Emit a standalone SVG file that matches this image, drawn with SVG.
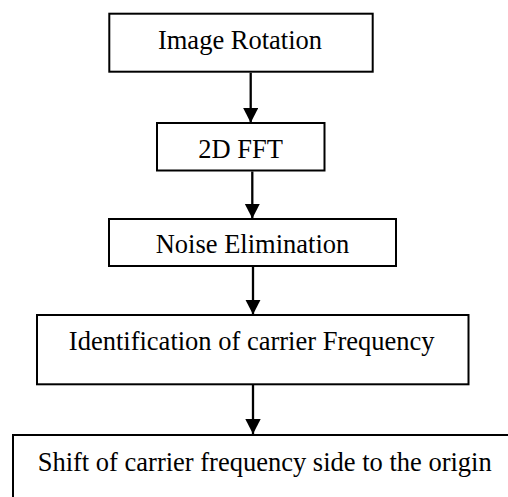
<svg xmlns="http://www.w3.org/2000/svg" width="508" height="497" viewBox="0 0 508 497">
<style>
.box{fill:#fff;stroke:#000;stroke-width:2}
.lbl{font-family:"Liberation Serif","Times New Roman",serif;font-size:26.5px;fill:#000;text-anchor:middle}
.conn{stroke:#000;stroke-width:2.3;fill:none}
</style>
<defs>
<marker id="arr" markerUnits="userSpaceOnUse" markerWidth="16" markerHeight="16" refX="15" refY="7.7" orient="auto">
<path d="M0,0 L15,7.7 L0,15.4 Z" fill="#000"/>
</marker>
</defs>
<rect width="508" height="497" fill="#fff"/>
<g id="connectors">
<line class="conn" x1="250.7" y1="72.7" x2="250.7" y2="122.7" marker-end="url(#arr)"/>
<line class="conn" x1="252.3" y1="171.5" x2="252.3" y2="218.5" marker-end="url(#arr)"/>
<line class="conn" x1="253" y1="267" x2="253" y2="314.5" marker-end="url(#arr)"/>
<line class="conn" x1="253" y1="385" x2="253" y2="434" marker-end="url(#arr)"/>
</g>
<g id="n1">
<rect class="box" x="109.3" y="13.7" width="263.4" height="58"/>
<text class="lbl" x="240" y="49.3">Image Rotation</text>
</g>
<g id="n2">
<rect class="box" x="157" y="123" width="167.5" height="47.5"/>
<text class="lbl" x="240.5" y="157.7">2D FFT</text>
</g>
<g id="n3">
<rect class="box" x="109" y="219" width="287" height="47"/>
<text class="lbl" x="252.5" y="253.3">Noise Elimination</text>
</g>
<g id="n4">
<rect class="box" x="37" y="315" width="431.5" height="69.3"/>
<text class="lbl" x="251.7" y="350">Identification of carrier Frequency</text>
</g>
<g id="n5">
<rect class="box" x="13" y="435" width="530" height="100"/>
<text class="lbl" x="264.7" y="470.5">Shift of carrier frequency side to the origin</text>
</g>
</svg>
